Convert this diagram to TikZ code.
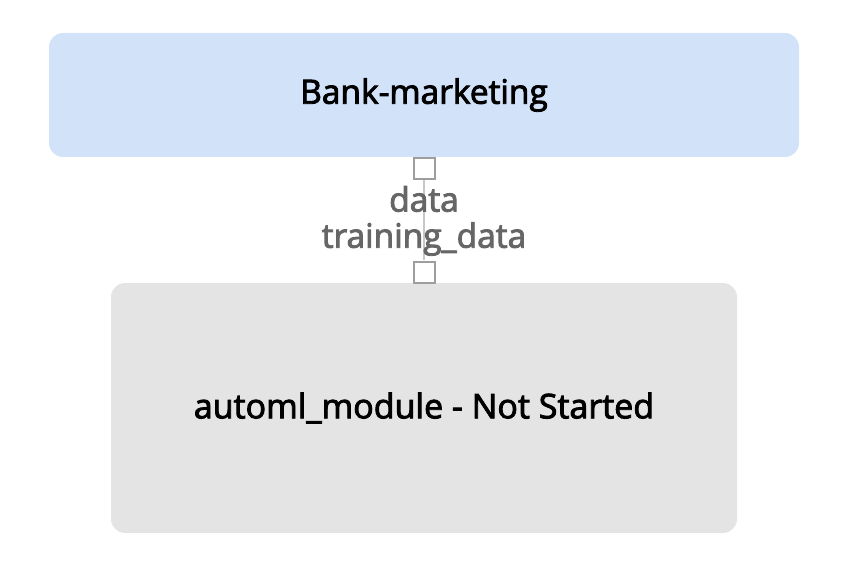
\documentclass[tikz,border=0pt]{standalone}
\usepackage{fontspec}
\setmainfont{Open Sans}
\newfontfamily\boxfont[FakeBold=2.6]{Open Sans}
\usepackage{xcolor}
\usetikzlibrary{positioning}

\definecolor{srcblue}{HTML}{D2E2F8}
\definecolor{modgray}{HTML}{E4E4E4}
\definecolor{portgray}{HTML}{9E9E9E}
\definecolor{linegray}{HTML}{C8C8C8}
\definecolor{labelgray}{HTML}{666666}

\begin{document}
\begin{tikzpicture}[
    x=1pt, y=-1pt,
    dataset/.style={rectangle, rounded corners=14pt, fill=srcblue, minimum width=750pt, minimum height=124pt, font=\boxfont\fontsize{33.5}{40}\selectfont, inner sep=0pt},
    module/.style={rectangle, rounded corners=14pt, fill=modgray, minimum width=626pt, minimum height=250pt, font=\boxfont\fontsize{34}{40}\selectfont, inner sep=0pt},
    port/.style={rectangle, draw=portgray, line width=2pt, fill=white, minimum size=21pt, inner sep=0pt},
    portlabel/.style={font=\boxfont\fontsize{33.5}{40}\selectfont, text=labelgray, inner sep=0pt},
]

\useasboundingbox (0,0) rectangle (847,567);

% Nodes
\node[dataset] (bank) at (424,95) {Bank-marketing};
\node[module] (automl) at (424,408) {automl\_module - Not Started};

% Ports
\node[port] (outport) at (424,169) {};
\node[port] (inport) at (424,272) {};

% Connection
\draw[linegray, line width=1.5pt] (outport.south) -- (inport.north);

\node[portlabel] (outname) at (424,199) {data};
\node[portlabel] (inname) at (424,239) {training\_data};

\end{tikzpicture}
\end{document}
